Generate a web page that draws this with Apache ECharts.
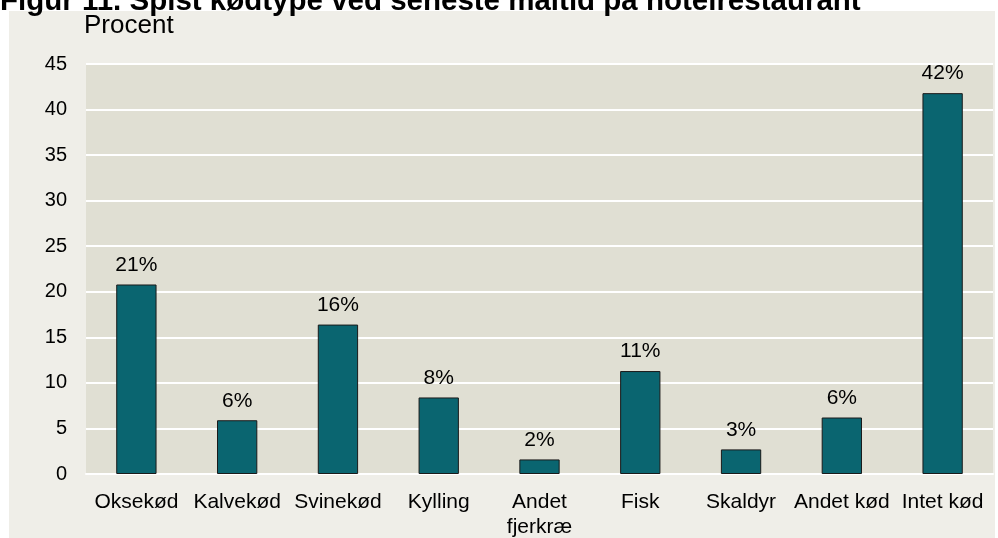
<!DOCTYPE html>
<html>
<head>
<meta charset="utf-8">
<script src="https://cdn.jsdelivr.net/npm/echarts@6/dist/echarts.min.js"></script>
<style>
html,body{margin:0;padding:0;background:#ffffff;}
#c{width:998px;height:538px;}
</style>
</head>
<body>
<div id="c"></div>
<script>
var categories = ['Oksekød', 'Kalvekød', 'Svinekød', 'Kylling', 'Andet\nfjerkræ', 'Fisk', 'Skaldyr', 'Andet kød', 'Intet kød'];
var values = [20.8, 5.9, 16.4, 8.4, 1.6, 11.3, 2.7, 6.2, 41.8];
var labels = ['21%', '6%', '16%', '8%', '2%', '11%', '3%', '6%', '42%'];
var yTicks = [0, 5, 10, 15, 20, 25, 30, 35, 40, 45];

var chart = echarts.init(document.getElementById('c'));
var font = 'Liberation Sans, Arial, sans-serif';
chart.setOption({
  backgroundColor: '#ffffff',
  animation: false,
  graphic: [
    {type: 'rect', z: -10, shape: {x: 9, y: 11, width: 986, height: 527}, style: {fill: '#efeee8'}},
    {type: 'text', left: 0, top: -13, style: {text: 'Figur 11. Spist kødtype ved seneste måltid på hotelrestaurant', font: 'bold 29.5px ' + font, fill: '#000'}},
    {type: 'text', left: 84, top: 13, style: {text: 'Procent', font: '26px ' + font, fill: '#000'}}
  ],
  grid: {left: 86, right: 5, top: 64, bottom: 64, show: true, backgroundColor: '#e0dfd3', borderWidth: 0, outerBoundsMode: 'none', containLabel: false},
  xAxis: {
    type: 'category',
    data: categories,
    axisLine: {show: true, lineStyle: {color: '#ffffff', width: 2}},
    axisTick: {show: false},
    axisLabel: {color: '#000', fontFamily: font, fontSize: 21, margin: 16, lineHeight: 25, interval: 0}
  },
  yAxis: {
    type: 'value',
    min: yTicks[0],
    max: yTicks[yTicks.length - 1],
    interval: 5,
    axisLine: {show: false},
    axisTick: {show: false},
    splitLine: {show: true, lineStyle: {color: '#ffffff', width: 2}},
    axisLabel: {color: '#000', fontFamily: font, fontSize: 20, margin: 19}
  },
  series: [{
    type: 'bar',
    data: values,
    barWidth: '40%',
    itemStyle: {color: '#0a6570', borderColor: '#1a1a1a', borderWidth: 1},
    label: {
      show: true,
      position: 'top',
      distance: 9,
      color: '#000',
      fontFamily: font,
      fontSize: 21,
      formatter: function (p) { return labels[p.dataIndex]; }
    }
  }]
});
</script>
</body>
</html>
